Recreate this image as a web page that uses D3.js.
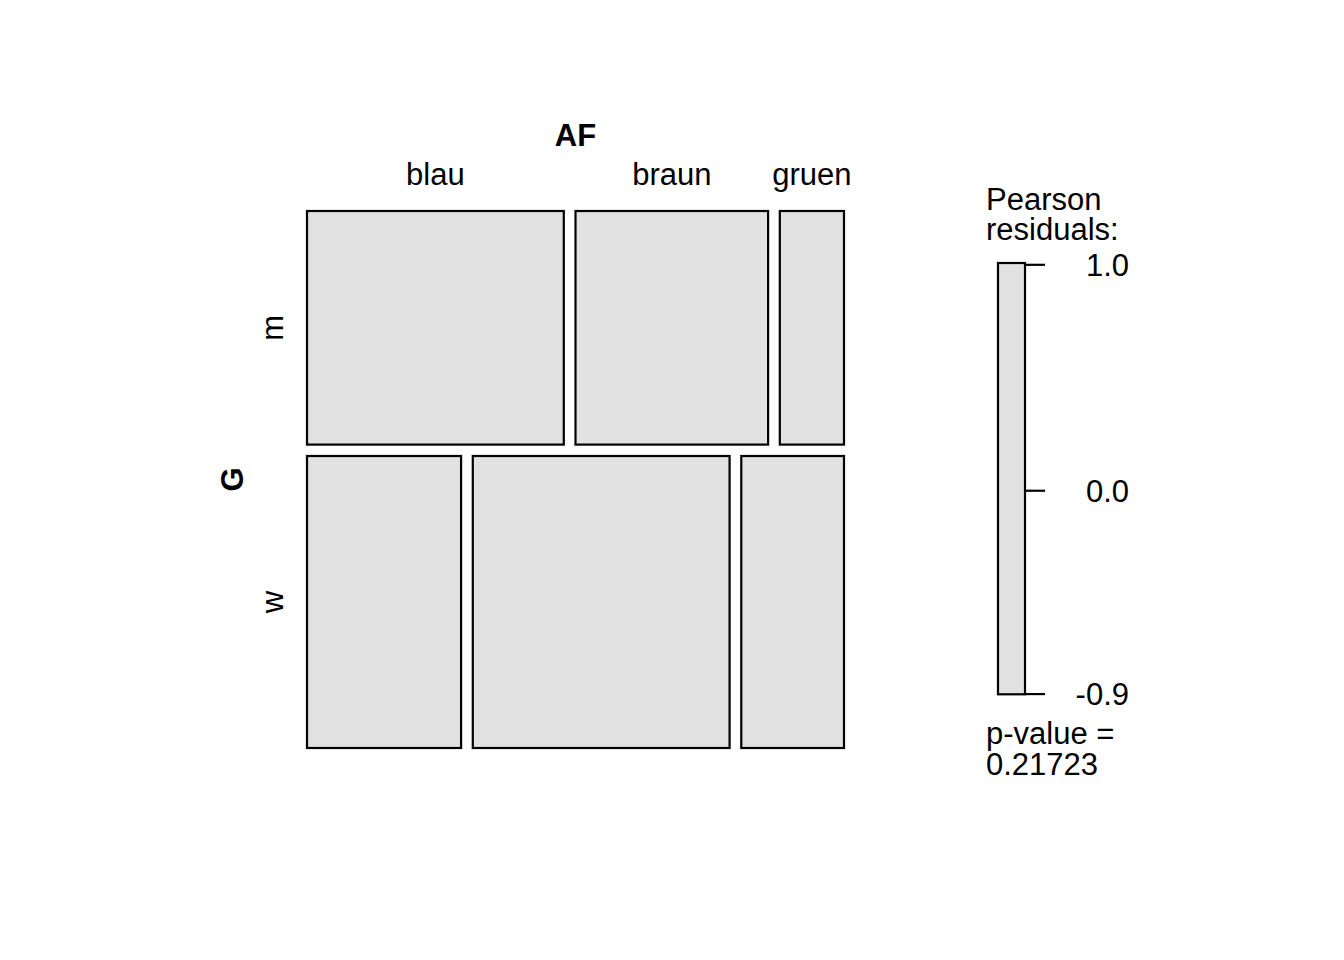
<!DOCTYPE html>
<html><head><meta charset="utf-8">
<script src="https://cdn.jsdelivr.net/npm/d3@7"></script>
<style>body{margin:0;background:#fff}svg{display:block}text{font-family:"Liberation Sans",Arial,sans-serif;fill:#000}</style>
</head><body>
<svg id="c" width="1344" height="960"></svg>
<script>
const rowVar = "G", colVar = "AF";
const rows = ["m", "w"];
const cols = ["blau", "braun", "gruen"];
const countsM = [16, 12, 4];
const countsW = [12, 20, 8];
const residM = [1.008, -0.589, -0.577];
const residW = [-0.901, 0.527, 0.516];
const legendTicks = [1.0, 0.0, -0.9];
const pValue = "0.21723";

const counts = [countsM, countsW];
const resid = [residM, residW];
const svg = d3.select("#c");
const FS = 31;
const L = 307, R = 844, T = 211, B = 748;
const gapX = 11.7, gapY = 11.4;
const rowTot = counts.map(r => d3.sum(r));
const N = d3.sum(rowTot);
const yS = d3.scaleLinear().domain([0, N]).range([0, (B - T) - gapY * (rows.length - 1)]);
const fillFor = r => Math.abs(r) < 2 ? "#e1e1e1" : (r > 0 ? "#6f9fd8" : "#d87f7f");

let yCur = T;
const cells = [];
rows.forEach((rw, i) => {
  const h = yS(rowTot[i]);
  const xS = d3.scaleLinear().domain([0, rowTot[i]]).range([0, (R - L) - gapX * (cols.length - 1)]);
  let xCur = L;
  cols.forEach((c, j) => {
    const w = xS(counts[i][j]);
    cells.push({row: i, col: j, x: xCur, y: yCur, w, h, r: resid[i][j]});
    xCur += w + gapX;
  });
  yCur += h + gapY;
});

svg.selectAll("rect.cell").data(cells).enter().append("rect")
  .attr("class", "cell")
  .attr("x", d => d.x).attr("y", d => d.y).attr("width", d => d.w).attr("height", d => d.h)
  .attr("fill", d => fillFor(d.r)).attr("stroke", "#000").attr("stroke-width", 2.2);

// column labels from top row
cells.filter(d => d.row === 0).forEach(d => {
  svg.append("text").attr("x", d.x + d.w / 2).attr("y", 185).attr("text-anchor", "middle")
    .attr("font-size", FS).text(cols[d.col]);
});
svg.append("text").attr("x", (L + R) / 2).attr("y", 146).attr("text-anchor", "middle")
  .attr("font-size", FS).attr("font-weight", "bold").text(colVar);

// row labels
cells.filter(d => d.col === 0).forEach(d => {
  const cy = d.y + d.h / 2;
  svg.append("text").attr("transform", `translate(283,${cy}) rotate(-90)`).attr("text-anchor", "middle")
    .attr("font-size", FS).text(rows[d.row]);
});
svg.append("text").attr("transform", `translate(243,${(T + B) / 2}) rotate(-90)`).attr("text-anchor", "middle")
  .attr("font-size", FS).attr("font-weight", "bold").text(rowVar);

// legend
const allRes = resid.flat();
const rMin = d3.min(allRes), rMax = d3.max(allRes);
const lS = d3.scaleLinear().domain([rMin, rMax]).range([694.3, 263]);
svg.append("rect").attr("x", 998).attr("y", lS(rMax)).attr("width", 27).attr("height", lS(rMin) - lS(rMax))
  .attr("fill", fillFor(0)).attr("stroke", "#000").attr("stroke-width", 2.2);
legendTicks.forEach(t => {
  const y = lS(t);
  svg.append("line").attr("x1", 1025).attr("x2", 1045).attr("y1", y).attr("y2", y)
    .attr("stroke", "#000").attr("stroke-width", 2.2);
  svg.append("text").attr("x", 1129).attr("y", y + 11).attr("text-anchor", "end")
    .attr("font-size", FS).text(t.toFixed(1));
});
svg.append("text").attr("x", 986).attr("y", 210).attr("font-size", FS).text("Pearson");
svg.append("text").attr("x", 986).attr("y", 240).attr("font-size", FS).text("residuals:");
svg.append("text").attr("x", 986).attr("y", 744).attr("font-size", FS).text("p-value =");
svg.append("text").attr("x", 986).attr("y", 775).attr("font-size", FS).text(pValue);
</script>
</body></html>
